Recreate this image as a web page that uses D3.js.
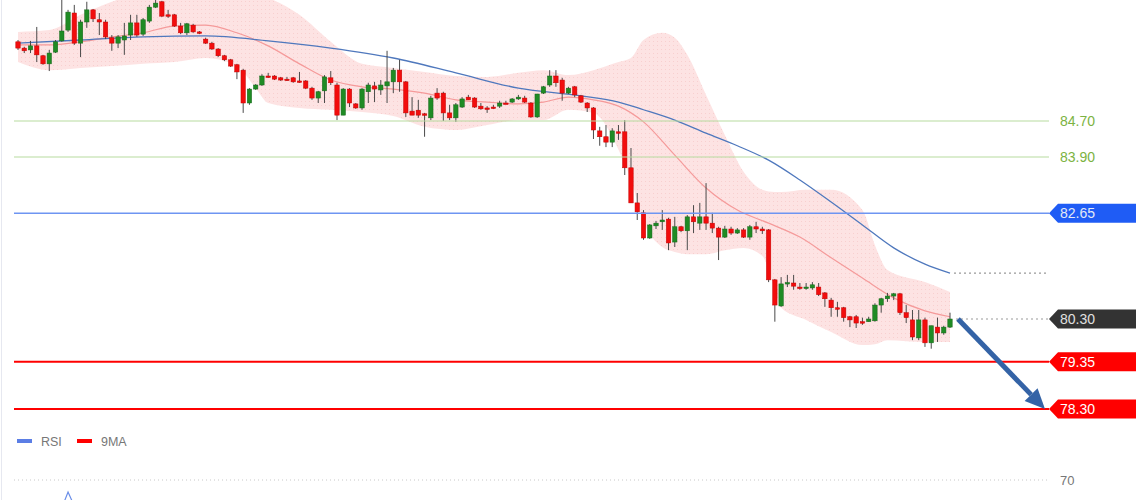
<!DOCTYPE html>
<html><head><meta charset="utf-8">
<script src="https://cdn.jsdelivr.net/npm/d3@7"></script>
<style>html,body{margin:0;padding:0;background:#fff;} svg{display:block;font-family:"Liberation Sans",Arial,sans-serif;}</style>
</head><body><svg id="c" width="1140" height="500"></svg>
<script>
const categories = d3.range(150).map(i => "C" + (i + 1));
const opens = [86.46,86.32,86.28,86.37,86.15,85.97,86.23,86.48,86.72,87.10,
86.43,86.90,87.17,86.95,86.90,86.55,86.43,86.50,86.61,86.88,
86.63,86.92,87.23,87.35,87.06,87.06,86.81,86.66,86.83,86.68,
86.52,86.43,86.30,86.15,86.06,85.95,85.83,85.10,85.41,85.50,
85.70,85.70,85.66,85.63,85.66,85.59,85.59,85.43,85.21,85.37,
85.66,85.50,84.83,85.41,85.08,84.99,85.35,85.48,85.39,85.48,
85.57,85.83,85.57,84.92,84.94,84.86,84.77,85.32,85.32,84.88,
84.77,85.01,85.23,85.21,85.03,84.99,85.01,85.03,85.10,85.12,
85.19,85.21,85.10,84.79,85.32,85.50,85.70,85.61,85.32,85.46,
85.26,85.10,84.99,84.48,84.35,84.23,84.46,84.46,83.66,82.88,
82.66,82.10,82.37,82.46,82.52,82.01,82.35,82.26,82.57,82.43,
82.57,82.43,82.32,82.12,82.30,82.21,82.28,82.12,82.35,82.30,
82.28,81.17,80.59,81.10,81.10,81.01,81.00,80.99,81.01,80.88,
80.72,80.55,80.55,80.35,80.35,80.24,80.24,80.26,80.61,80.75,
80.81,80.86,80.44,80.28,79.88,80.28,79.77,80.12,79.99,80.12];
const highs = [86.50,86.35,86.48,86.79,86.17,86.28,86.50,87.39,87.17,87.28,
86.95,87.35,87.19,87.10,86.95,86.61,86.61,86.88,87.06,87.06,
86.99,87.28,87.39,87.37,87.17,87.08,86.88,86.88,86.86,86.70,
86.55,86.46,86.32,86.17,86.08,85.97,85.86,85.43,85.52,85.74,
85.77,85.72,85.68,85.68,85.68,85.79,85.61,85.46,85.37,85.72,
85.81,85.55,85.43,85.43,85.10,85.43,85.55,85.57,85.61,86.26,
85.88,86.06,85.59,85.23,85.17,84.88,85.26,85.43,85.35,85.06,
85.10,85.23,85.28,85.23,85.10,85.03,85.06,85.15,85.15,85.21,
85.28,85.26,85.12,85.30,85.48,85.83,85.83,85.66,85.46,85.48,
85.28,85.12,85.01,84.57,84.61,84.54,84.61,84.72,84.10,83.10,
82.72,82.41,82.48,82.72,82.55,82.57,82.37,82.61,82.83,82.88,
83.32,82.66,82.35,82.37,82.35,82.32,82.32,82.39,82.46,82.35,
82.30,81.19,81.23,81.28,81.28,81.10,81.10,81.12,81.10,80.90,
80.77,80.68,80.57,80.37,80.39,80.33,80.35,80.65,80.77,80.88,
80.88,80.88,80.61,80.50,80.50,80.33,80.15,80.33,80.15,80.44];
const lows = [86.28,86.21,86.21,86.01,85.95,85.81,86.21,86.46,86.68,86.39,
86.12,86.77,86.90,86.61,86.52,86.26,86.32,86.17,86.50,86.57,
86.59,86.88,87.21,87.01,86.99,86.79,86.63,86.61,86.66,86.63,
86.41,86.28,86.12,86.03,85.90,85.63,84.88,85.06,85.39,85.48,
85.66,85.61,85.59,85.59,85.55,85.55,85.41,85.17,85.10,85.10,
85.50,84.72,84.83,85.01,84.97,84.95,85.10,85.12,85.28,85.10,
85.32,85.35,84.79,84.83,84.77,84.35,84.72,85.17,84.70,84.72,
84.68,84.99,85.17,84.99,84.95,84.88,84.97,84.99,85.08,85.10,
85.17,85.10,84.77,84.77,85.30,85.46,85.46,85.15,85.30,85.23,
85.10,84.90,84.30,84.15,84.12,84.12,84.28,83.50,82.88,82.50,
82.06,82.08,82.30,82.28,81.83,81.90,82.23,81.83,82.21,82.28,
82.28,82.21,81.61,82.10,82.17,82.19,82.10,82.06,82.21,82.19,
81.12,80.24,80.57,81.01,80.95,80.95,80.95,80.95,80.81,80.57,
80.35,80.35,80.24,80.12,80.10,80.17,80.24,80.24,80.44,80.68,
80.72,80.39,80.21,79.83,79.83,79.68,79.64,79.79,79.95,80.10];
const closes = [86.32,86.26,86.37,86.17,85.97,86.21,86.46,86.70,87.12,86.43,
86.90,87.17,86.97,86.90,86.57,86.43,86.57,86.59,86.88,86.61,
86.95,87.23,87.32,87.03,87.03,86.81,86.66,86.86,86.68,86.66,
86.43,86.30,86.15,86.06,85.92,85.79,85.10,85.41,85.50,85.70,
85.68,85.63,85.61,85.62,85.57,85.58,85.43,85.21,85.35,85.68,
85.55,84.83,85.41,85.10,84.99,85.41,85.50,85.41,85.50,85.57,
85.83,85.57,84.88,84.83,84.83,84.84,85.21,85.21,84.88,84.77,
85.06,85.19,85.17,85.01,84.97,84.98,85.00,85.10,85.09,85.19,
85.23,85.12,84.79,85.30,85.46,85.70,85.55,85.32,85.43,85.28,
85.12,84.99,84.50,84.35,84.23,84.48,84.45,83.66,82.88,82.68,
82.10,82.39,82.43,82.50,81.99,82.35,82.26,82.57,82.46,82.57,
82.43,82.32,82.12,82.30,82.21,82.28,82.12,82.35,82.30,82.26,
81.17,80.61,81.08,81.11,81.03,81.00,81.01,81.06,80.84,80.75,
80.55,80.54,80.33,80.28,80.21,80.23,80.30,80.61,80.75,80.81,
80.86,80.44,80.33,79.90,80.28,79.77,80.15,79.99,80.12,80.30];

// slow moving average (blue), sampled at candle indices
const slowIdx = [0,10,20,30,40,50,60,70,80,90,96,100,105,110,115,120,125,130,135,140,145,149];
const slowMA  = [86.43,86.50,86.57,86.59,86.48,86.32,86.10,85.77,85.43,85.26,85.12,84.95,84.72,84.43,84.15,83.83,83.39,82.90,82.39,81.88,81.52,81.32];
// fast moving average (salmon)
const fastIdx = [0,5,10,15,20,25,30,35,40,45,50,55,60,65,70,75,80,84,88,92,96,100,105,110,115,120,125,130,135,140,145,149];
const fastMA  = [86.39,86.39,86.46,86.57,86.66,86.81,86.83,86.66,86.37,85.97,85.61,85.46,85.41,85.32,85.17,85.12,85.08,85.12,85.23,85.17,85.03,84.68,83.94,83.21,82.72,82.43,82.12,81.66,81.21,80.77,80.48,80.35];
// Bollinger band edges
const bandIdx   = [0,5,10,15,20,25,30,35,38,40,45,50,55,60,65,70,75,80,84,88,92,96,98,100,103,105,107,110,113,116,119,121,122,126,130,135,137,139,145,149];
const bandUpper = [86.68,86.72,87.06,87.35,87.57,87.61,87.61,87.57,87.50,87.43,87.06,86.46,85.97,85.88,85.79,85.70,85.68,85.77,85.83,85.72,85.83,86.01,86.10,86.50,86.66,86.55,86.17,85.28,84.39,83.57,83.17,83.12,83.12,83.17,83.17,82.72,81.94,81.39,81.12,80.90];
const bandLower = [86.01,85.83,85.88,85.92,85.97,86.01,86.10,85.92,85.43,85.10,84.99,84.95,84.90,84.81,84.57,84.50,84.61,84.72,84.72,84.95,84.88,84.06,83.39,82.46,81.90,81.79,81.74,81.74,81.83,81.88,81.70,80.95,80.55,80.28,80.01,79.72,79.74,79.83,79.79,79.79];
// RSI (only the part visible in the frame)
const rsiIdx = [6,7,8,9,10];
const rsiVals = [50,56,64,57,50];

// price levels
const levelValues = [84.70, 83.90, 82.65, 80.30, 79.35, 78.30];
const levelLabels = ["84.70","83.90","82.65","80.30","79.35","78.30"];
const levelKinds  = ["resist","resist","pivot","last","support","support"];
const legendNames = ["RSI","9MA"];
const rsiLevel = 70;

const svg = d3.select("#c");
const x = d3.scalePoint().domain(categories).range([18, 950]);
const y = d3.scaleLinear().domain([78.30, 84.70]).range([409, 121]);
const yr = d3.scaleLinear().domain([30, 70]).range([560, 480]);
const xi = i => x(categories[i]);

const defs = svg.append("defs");
const pat = defs.append("pattern").attr("id","dots").attr("width",4).attr("height",4).attr("patternUnits","userSpaceOnUse");
pat.append("rect").attr("width",4).attr("height",4).attr("fill","#fde3e3");
pat.append("rect").attr("x",1).attr("y",1).attr("width",1).attr("height",1).attr("fill","#f8cfcf");
defs.append("clipPath").attr("id","main").append("rect").attr("x",0).attr("y",0).attr("width",1140).attr("height",470);

svg.append("line").attr("x1",1.5).attr("x2",1.5).attr("y1",0).attr("y2",500).attr("stroke","#e6e8f0");

const g = svg.append("g").attr("clip-path","url(#main)");
const band = bandIdx.map((d,i)=>({i:d, hi:bandUpper[i], lo:bandLower[i]}));
g.append("path").datum(band)
  .attr("d", d3.area().x(d=>xi(d.i)).y0(d=>y(d.lo)).y1(d=>y(d.hi)).curve(d3.curveMonotoneX))
  .attr("fill","url(#dots)");

// horizontal levels
const lvlStyle = {
  resist:{stroke:"#b7dca0", w:1.2, dash:null, fill:null, text:"#7cb342"},
  pivot:{stroke:"#6e95f2", w:1.5, dash:null, fill:"#1f5cf5", text:"#e3e9f5"},
  last:{stroke:"#999", w:1.2, dash:"2,3", fill:"#333333", text:"#e0e0e0"},
  support:{stroke:"#ff0000", w:2, dash:null, fill:"#ff0000", text:"#ffffff"}
};
levelValues.forEach((v,i)=>{
  const s = lvlStyle[levelKinds[i]];
  const x0 = levelKinds[i]==="last" ? xi(149)+6 : 14;
  svg.append("line").attr("x1",x0).attr("x2",1049).attr("y1",y(v)).attr("y2",y(v))
    .attr("stroke",s.stroke).attr("stroke-width",s.w).attr("stroke-dasharray",s.dash);
  if (s.fill) {
    const yy = y(v);
    svg.append("path").attr("d",`M1049,${yy} L1058,${yy-9.5} L1136,${yy-9.5} L1136,${yy+9.5} L1058,${yy+9.5} Z`).attr("fill",s.fill);
  }
  svg.append("text").attr("x",1060).attr("y",y(v)+5).attr("fill",s.text).attr("font-size",14).text(levelLabels[i]);
});

// slow MA dotted continuation
svg.append("line").attr("x1",xi(149)+4).attr("x2",1049).attr("y1",y(slowMA[slowMA.length-1])).attr("y2",y(slowMA[slowMA.length-1]))
  .attr("stroke","#999").attr("stroke-width",1.2).attr("stroke-dasharray","2,3");

const line = d3.line().x(d=>xi(d[0])).y(d=>y(d[1])).curve(d3.curveMonotoneX);
g.append("path").attr("d", line(fastIdx.map((d,i)=>[d,fastMA[i]]))).attr("fill","none").attr("stroke","#f59a9a").attr("stroke-width",1.2);
g.append("path").attr("d", line(slowIdx.map((d,i)=>[d,slowMA[i]]))).attr("fill","none").attr("stroke","#4f78bd").attr("stroke-width",1.3);

// candles
const cg = g.append("g");
categories.forEach((c,i)=>{
  const o=opens[i], cl=closes[i], up = cl>=o;
  const cx = x(c);
  cg.append("line").attr("x1",cx).attr("x2",cx).attr("y1",y(highs[i])).attr("y2",y(lows[i])).attr("stroke","#4a4a4a").attr("stroke-width",1);
  const top = Math.min(y(o),y(cl)), h = Math.max(1.5, Math.abs(y(o)-y(cl)));
  cg.append("rect").attr("x",cx-2.2).attr("y",top).attr("width",4.4).attr("height",h)
    .attr("fill", up ? "#1f8b24" : "#f20d0d").attr("stroke", up ? "#17661a" : "#c40000").attr("stroke-width",0.5);
});

// arrow
const ax0 = xi(149)+8, ay0 = y(80.30), ax1 = 1045, ay1 = y(78.30);
const ang = Math.atan2(ay1-ay0, ax1-ax0);
const hl = 20, hw = 9;
const bx = ax1 - hl*Math.cos(ang), by = ay1 - hl*Math.sin(ang);
svg.append("line").attr("x1",ax0).attr("y1",ay0).attr("x2",bx).attr("y2",by).attr("stroke","#3463a6").attr("stroke-width",5);
svg.append("path").attr("d",`M${ax1},${ay1} L${bx + hw*Math.sin(ang)},${by - hw*Math.cos(ang)} L${bx - hw*Math.sin(ang)},${by + hw*Math.cos(ang)} Z`).attr("fill","#3463a6");

// legend
const legColors = ["#5b7ee5","#ff0000"];
legendNames.forEach((n,i)=>{
  const lx = 17 + i*60;
  svg.append("rect").attr("x",lx).attr("y",439).attr("width",15).attr("height",4).attr("fill",legColors[i]);
  svg.append("text").attr("x",lx+24).attr("y",446).attr("fill","#777").attr("font-size",12.5).text(n);
});

// RSI panel
svg.append("line").attr("x1",14).attr("x2",1049).attr("y1",yr(rsiLevel)).attr("y2",yr(rsiLevel)).attr("stroke","#c8c8c8").attr("stroke-dasharray","1,3");
svg.append("text").attr("x",1060).attr("y",yr(rsiLevel)+5).attr("fill","#777").attr("font-size",13).text(String(rsiLevel));
svg.append("path").attr("d", d3.line().x(d=>xi(d[0])).y(d=>yr(d[1]))(rsiIdx.map((d,i)=>[d,rsiVals[i]]))).attr("fill","none").attr("stroke","#6a8ee8").attr("stroke-width",1.2);
</script></body></html>
